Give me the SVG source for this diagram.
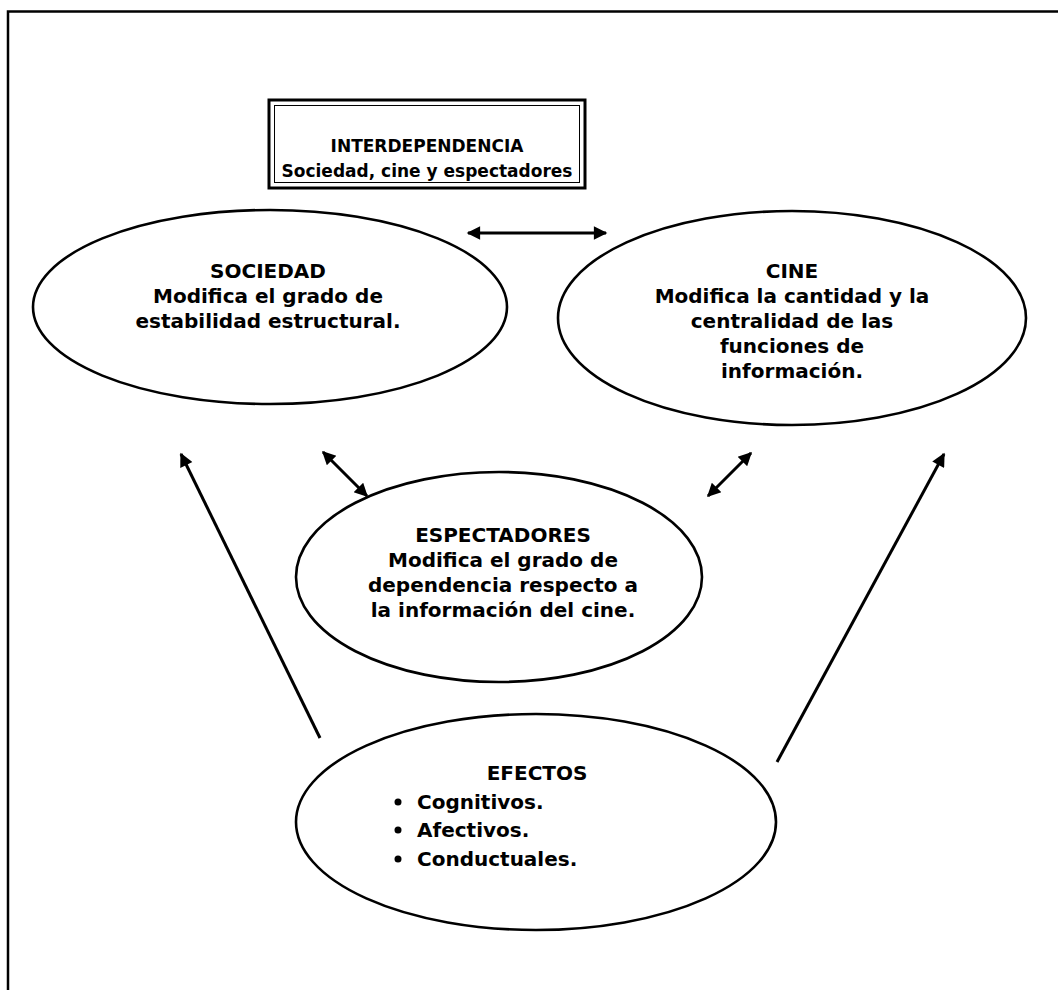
<svg xmlns="http://www.w3.org/2000/svg" width="1058" height="990" viewBox="0 0 1058 990">
<style>
text{font-family:"DejaVu Sans","Verdana",sans-serif;font-weight:bold;font-size:20px;fill:#000;text-anchor:middle}
.ttl{font-size:17px}
.st{text-anchor:start}
.el{fill:none;stroke:#000;stroke-width:2.6}
.ln{stroke:#000;stroke-width:3;fill:none}
</style>
<defs>
<marker id="ah" viewBox="0 0 10 10" refX="9" refY="5" markerWidth="5.5" markerHeight="4.5" orient="auto-start-reverse" markerUnits="strokeWidth">
<path d="M0,0 L10,5 L0,10 z" fill="#000"/>
</marker>
<clipPath id="cineclip"><rect x="560" y="240" width="470" height="138"/></clipPath>
</defs>
<rect width="1058" height="990" fill="#fff"/>
<path d="M8,990 V11.5 H1058" fill="none" stroke="#000" stroke-width="2.5"/>
<g id="title">
<rect x="269" y="100" width="316" height="88" fill="none" stroke="#000" stroke-width="3"/>
<rect x="274.5" y="105.5" width="305" height="77" fill="none" stroke="#000" stroke-width="1"/>
<text class="ttl" x="427" y="152">INTERDEPENDENCIA</text>
<text class="ttl" x="427" y="177">Sociedad, cine y espectadores</text>
</g>
<g id="sociedad">
<ellipse class="el" cx="270" cy="307" rx="237" ry="97"/>
<text x="268" y="278">SOCIEDAD</text>
<text x="268" y="303">Modifica el grado de</text>
<text x="268" y="328">estabilidad estructural.</text>
</g>
<g id="cine">
<ellipse class="el" cx="792" cy="318" rx="234" ry="107"/>
<g clip-path="url(#cineclip)">
<text x="792" y="278">CINE</text>
<text x="792" y="303">Modifica la cantidad y la</text>
<text x="792" y="328">centralidad de las</text>
<text x="792" y="353">funciones de</text>
<text x="792" y="378">información.</text>
</g>
</g>
<g id="espectadores">
<ellipse class="el" cx="499" cy="577" rx="203" ry="105"/>
<text x="503" y="542">ESPECTADORES</text>
<text x="503" y="567">Modifica el grado de</text>
<text x="503" y="592">dependencia respecto a</text>
<text x="503" y="617">la información del cine.</text>
</g>
<g id="efectos">
<ellipse class="el" cx="536" cy="822" rx="240" ry="108"/>
<text x="537" y="780">EFECTOS</text>
<text class="st" x="417" y="809">Cognitivos.</text>
<text class="st" x="417" y="837">Afectivos.</text>
<text class="st" x="417" y="866">Conductuales.</text>
<circle cx="398" cy="802" r="3.5"/>
<circle cx="398" cy="830" r="3.5"/>
<circle cx="398" cy="859" r="3.5"/>
</g>
<g id="connectors">
<line class="ln" x1="468" y1="233" x2="606" y2="233" marker-start="url(#ah)" marker-end="url(#ah)"/>
<line class="ln" x1="323" y1="452" x2="367" y2="496" marker-start="url(#ah)" marker-end="url(#ah)"/>
<line class="ln" x1="708" y1="496" x2="751" y2="453" marker-start="url(#ah)" marker-end="url(#ah)"/>
<line class="ln" x1="320" y1="738" x2="181" y2="454" marker-end="url(#ah)"/>
<line class="ln" x1="777" y1="762" x2="944" y2="454" marker-end="url(#ah)"/>
</g>
</svg>
